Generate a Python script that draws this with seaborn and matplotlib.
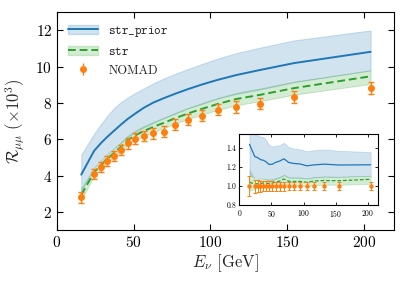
import numpy as np
import pandas as pd
import seaborn as sns
import matplotlib
matplotlib.use("Agg")
import matplotlib.pyplot as plt
from matplotlib.patches import Patch
from matplotlib.lines import Line2D

# ---------------- data ----------------
energy = [15.8, 24.2, 28.8, 32.9, 37.2, 41.6, 46.1, 51.1, 56.5, 62.8,
          69.5, 76.8, 85.3, 94.6, 105.0, 117.0, 132.5, 154.7, 204.5]
nomad = [2.81, 4.09, 4.46, 4.80, 5.08, 5.41, 5.79, 6.03, 6.18, 6.34,
         6.41, 6.80, 7.07, 7.31, 7.64, 7.79, 7.97, 8.34, 8.83]
nomad_err = [0.30, 0.28, 0.28, 0.28, 0.28, 0.28, 0.30, 0.30, 0.30, 0.30,
             0.30, 0.30, 0.30, 0.30, 0.30, 0.32, 0.32, 0.33, 0.35]

prior = [4.05, 5.36, 5.80, 6.14, 6.47, 6.80, 7.12, 7.42, 7.73, 8.02,
         8.26, 8.50, 8.76, 9.02, 9.28, 9.54, 9.82, 10.20, 10.82]
prior_hi = [5.15, 6.30, 6.85, 7.30, 7.72, 8.04, 8.30, 8.55, 8.80, 9.08,
            9.35, 9.60, 9.87, 10.15, 10.45, 10.75, 11.05, 11.45, 12.00]
prior_lo = [3.15, 4.45, 4.85, 5.20, 5.50, 5.80, 6.10, 6.40, 6.65, 6.90,
            7.15, 7.40, 7.70, 7.95, 8.25, 8.50, 8.75, 9.15, 9.80]

strf = [2.93, 4.18, 4.58, 4.93, 5.25, 5.58, 5.95, 6.22, 6.45, 6.68,
        6.90, 7.15, 7.42, 7.68, 7.95, 8.22, 8.45, 8.82, 9.47]
str_hi = [3.29, 4.40, 4.80, 5.15, 5.48, 5.82, 6.20, 6.48, 6.72, 6.96,
          7.19, 7.45, 7.73, 8.00, 8.28, 8.56, 8.80, 9.18, 9.80]
str_lo = [2.67, 3.98, 4.38, 4.72, 5.03, 5.35, 5.70, 5.96, 6.18, 6.40,
          6.61, 6.85, 7.11, 7.36, 7.62, 7.88, 8.10, 8.46, 9.05]

BLUE, ORANGE, GREEN = "#1f77b4", "#ff7f0e", "#2ca02c"

sns.set_theme(style="ticks")
plt.rcParams.update({
    "font.family": ["cmr10", "DejaVu Serif"],
    "mathtext.fontset": "cm",
    "axes.formatter.use_mathtext": True,
    "axes.unicode_minus": False,
    "axes.edgecolor": "black",
    "axes.linewidth": 0.8,
    "xtick.color": "black",
    "ytick.color": "black",
})

df = pd.DataFrame({"E": energy, "nomad": nomad, "err": nomad_err,
                   "prior": prior, "prior_hi": prior_hi, "prior_lo": prior_lo,
                   "str": strf, "str_hi": str_hi, "str_lo": str_lo})

fig = plt.figure(figsize=(4.07, 2.85), dpi=100)
ax = fig.add_axes([0.140, 0.193, 0.829, 0.764])

ax.fill_between(df["E"], df["prior_lo"], df["prior_hi"], color=BLUE, alpha=0.2, lw=0.8)
sns.lineplot(data=df, x="E", y="prior", ax=ax, color=BLUE, lw=1.4)
ax.fill_between(df["E"], df["str_lo"], df["str_hi"], color=GREEN, alpha=0.2, lw=0.8)
sns.lineplot(data=df, x="E", y="str", ax=ax, color=GREEN, lw=1.4, linestyle=(0, (4, 2)))
ax.errorbar(df["E"], df["nomad"], yerr=df["err"], fmt="o", color=ORANGE,
            ms=4, capsize=2.2, elinewidth=1.0, capthick=1.0)

ax.set_xlim(0, 220)
ax.set_ylim(1, 13)
ax.set_xticks([0, 50, 100, 150, 200])
ax.set_yticks([2, 4, 6, 8, 10, 12])
ax.tick_params(direction="in", top=True, right=True, length=4, width=0.8, labelsize=11)
ax.set_xlabel(r"$E_\nu$ [GeV]", fontsize=12, labelpad=2)
ax.set_ylabel(r"$\mathcal{R}_{\mu\mu}\ (\times 10^3)$", fontsize=12, labelpad=6)

handles = [
    (Patch(facecolor=BLUE, alpha=0.2, edgecolor=BLUE), Line2D([], [], color=BLUE, lw=1.4)),
    (Patch(facecolor=GREEN, alpha=0.2, edgecolor=GREEN), Line2D([], [], color=GREEN, lw=1.4, linestyle=(0, (4, 2)))),
    ax.errorbar([], [], yerr=[], fmt="o", color=ORANGE, ms=4, capsize=2.2, elinewidth=1.0),
]
labels = [r"$\mathtt{str\_prior}$", r"$\mathtt{str}$", "NOMAD"]
ax.legend(handles, labels, loc="upper left", frameon=False, fontsize=9,
          handlelength=2.4, borderaxespad=0.5, labelspacing=0.55)

# ---------------- inset (ratio to data) ----------------
ins = fig.add_axes([0.588, 0.280, 0.341, 0.250])
E = np.array(energy)
d = np.array(nomad)
ins.fill_between(E, np.array(prior_lo) / d, np.array(prior_hi) / d, color=BLUE, alpha=0.2, lw=0.6)
ins.plot(E, np.array(prior) / d, color=BLUE, lw=0.9)
ins.fill_between(E, np.array(str_lo) / d, np.array(str_hi) / d, color=GREEN, alpha=0.2, lw=0.6)
ins.plot(E, np.array(strf) / d, color=GREEN, lw=0.9, linestyle=(0, (3, 1.5)))
ins.errorbar(E, d / d, yerr=np.array(nomad_err) / d, fmt="o", color=ORANGE,
             ms=2.2, capsize=1.2, elinewidth=0.7, capthick=0.7)
ins.set_xlim(0, 216)
ins.set_ylim(0.8, 1.55)
ins.set_xticks([0, 50, 100, 150, 200])
ins.set_yticks([0.8, 1.0, 1.2, 1.4])
ins.yaxis.set_major_formatter(matplotlib.ticker.FormatStrFormatter("%.1f"))
ins.tick_params(direction="in", top=True, right=True, length=2.5, width=0.6, labelsize=5.5, pad=2)
for s in ins.spines.values():
    s.set_linewidth(0.8)
ins.set_xlabel("")
ins.set_ylabel("")

fig.savefig("out.png", dpi=100)
